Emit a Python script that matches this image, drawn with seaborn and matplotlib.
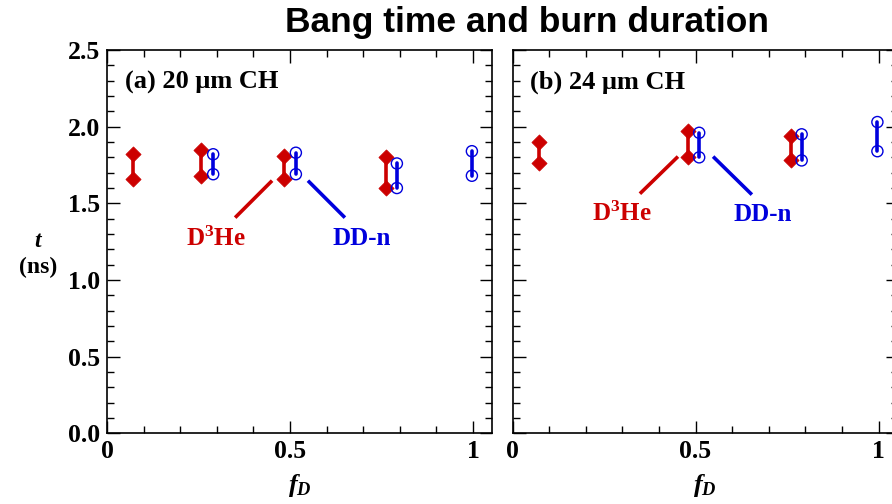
import matplotlib
matplotlib.use("Agg")
import matplotlib.pyplot as plt
import seaborn as sns
import pandas as pd
from matplotlib.ticker import MultipleLocator, FixedLocator

sns.set_theme(style="ticks")
plt.rcParams['font.family'] = ['Liberation Serif', 'DejaVu Serif']
plt.rcParams['font.weight'] = 'bold'
plt.rcParams['mathtext.fontset'] = 'custom'
plt.rcParams['mathtext.it'] = 'Liberation Serif:italic:bold'
plt.rcParams['mathtext.rm'] = 'Liberation Serif:bold'
for key in ['text.color', 'axes.labelcolor', 'xtick.color', 'ytick.color', 'axes.edgecolor']:
    plt.rcParams[key] = 'black'

# ---- data ----
panel_labels = ["(a) 20 \u03bcm CH", "(b) 24 \u03bcm CH"]
title = "Bang time and burn duration"

a_d3he_f = [0.071, 0.257, 0.484, 0.762]
a_d3he_top = [1.82, 1.85, 1.81, 1.80]
a_d3he_bot = [1.66, 1.68, 1.66, 1.60]
a_ddn_f = [0.290, 0.516, 0.792, 0.997]
a_ddn_top = [1.82, 1.83, 1.76, 1.84]
a_ddn_bot = [1.69, 1.69, 1.60, 1.68]

b_d3he_f = [0.071, 0.480, 0.760]
b_d3he_top = [1.90, 1.97, 1.94]
b_d3he_bot = [1.76, 1.80, 1.78]
b_ddn_f = [0.510, 0.790, 0.997]
b_ddn_top = [1.96, 1.95, 2.03]
b_ddn_bot = [1.80, 1.78, 1.84]

x_ticks = [0, 0.5, 1]
x_ticklabels = ["0", "0.5", "1"]
y_ticks = [0.0, 0.5, 1.0, 1.5, 2.0, 2.5]
y_ticklabels = ["0.0", "0.5", "1.0", "1.5", "2.0", "2.5"]

RED = "#CC0000"
BLUE = "#0000DD"


def long_df(f, top, bot):
    rows = []
    for i, (x, t1, t2) in enumerate(zip(f, top, bot)):
        rows.append(dict(f=x, t=t1, pid=i))
        rows.append(dict(f=x, t=t2, pid=i))
    return pd.DataFrame(rows)


panels = [
    (long_df(a_d3he_f, a_d3he_top, a_d3he_bot), long_df(a_ddn_f, a_ddn_top, a_ddn_bot)),
    (long_df(b_d3he_f, b_d3he_top, b_d3he_bot), long_df(b_ddn_f, b_ddn_top, b_ddn_bot)),
]

# annotation geometry (data coords)
ann = [
    dict(red=((0.350, 1.407), (0.451, 1.648)), blue=((0.549, 1.648), (0.650, 1.407)),
         t_red=(0.298, 1.27), t_blue=(0.697, 1.27)),
    dict(red=((0.348, 1.563), (0.452, 1.805)), blue=((0.548, 1.805), (0.654, 1.557)),
         t_red=(0.299, 1.43), t_blue=(0.684, 1.43)),
]

fig = plt.figure(figsize=(8.92, 5.04), dpi=100)
ax_pos = [[0.120, 0.1399, 0.4316, 0.761], [0.5746, 0.1399, 0.4316, 0.761]]

for k in range(2):
    ax = fig.add_axes(ax_pos[k])
    d_red, d_blue = panels[k]
    sns.lineplot(data=d_red, x="f", y="t", units="pid", estimator=None, sort=False,
                 color=RED, lw=2.6, ax=ax, legend=False)
    sns.lineplot(data=d_blue, x="f", y="t", units="pid", estimator=None, sort=False,
                 color=BLUE, lw=2.6, ax=ax, legend=False)
    sns.scatterplot(data=d_red, x="f", y="t", marker="D", s=60, color=RED,
                    edgecolor=RED, linewidth=0.5, ax=ax, legend=False, zorder=3)
    sns.scatterplot(data=d_blue, x="f", y="t", marker="o", s=64, facecolor="none",
                    edgecolor=BLUE, linewidth=1.0, ax=ax, legend=False, zorder=3)

    a = ann[k]
    (x1, y1), (x2, y2) = a["red"]
    ax.plot([x1, x2], [y1, y2], color=RED, lw=2.6, solid_capstyle="butt")
    (x1, y1), (x2, y2) = a["blue"]
    ax.plot([x1, x2], [y1, y2], color=BLUE, lw=2.6, solid_capstyle="butt")
    ax.text(*a["t_red"], r"D$^{3}$He", color=RED, fontsize=18, fontweight="bold",
            ha="center", va="center")
    ax.text(*a["t_blue"], "DD-n", color=BLUE, fontsize=18, fontweight="bold",
            ha="center", va="center")
    ax.text(0.049, 2.29, panel_labels[k], fontsize=19, fontweight="bold",
            ha="left", va="center")

    ax.set_xlim(0, 1.052)
    ax.set_ylim(0, 2.5)
    ax.xaxis.set_major_locator(FixedLocator(x_ticks))
    ax.set_xticklabels(x_ticklabels)
    ax.xaxis.set_minor_locator(MultipleLocator(0.1))
    ax.yaxis.set_major_locator(FixedLocator(y_ticks))
    ax.yaxis.set_minor_locator(MultipleLocator(0.1))
    if k == 0:
        ax.set_yticklabels(y_ticklabels)
    else:
        ax.set_yticklabels([])
    ax.tick_params(which="both", direction="in", top=True, right=True, width=1.0,
                   labelsize=18.5, color="black", labelcolor="black")
    ax.tick_params(axis="x", pad=5)
    ax.tick_params(axis="y", pad=5)
    ax.tick_params(which="major", length=9)
    ax.tick_params(which="minor", length=5)
    for lab in ax.get_xticklabels() + ax.get_yticklabels():
        lab.set_fontweight("bold")
    for s in ax.spines.values():
        s.set_linewidth(1.2)
        s.set_color("black")
    ax.set_xlabel(r"$f_D$", fontsize=19, labelpad=6, color="black")
    ax.set_ylabel("")

fig.text(0.043, 0.495, "$t$\n(ns)", fontsize=17, fontweight="bold", ha="center",
         va="center", linespacing=1.3, color="black")
fig.text(0.591, 0.956, title, fontsize=25.5, fontweight="bold", ha="center",
         va="center", family=["Liberation Sans", "DejaVu Sans"], color="black")

fig.savefig("out.png", dpi=100)
